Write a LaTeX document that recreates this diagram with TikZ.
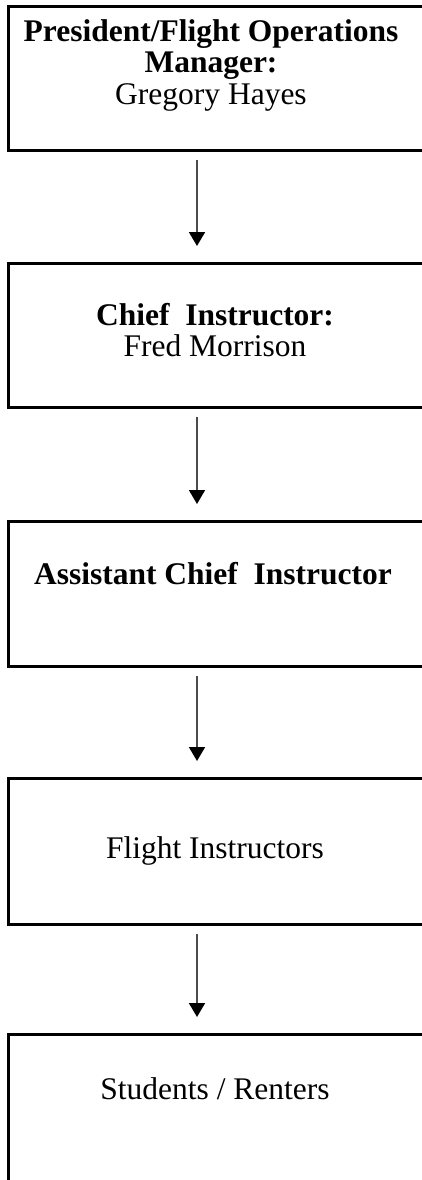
\documentclass[tikz,border=0pt]{standalone}
\usepackage{fontspec}
\setmainfont{Liberation Serif}
\usepackage{tikz}
\usetikzlibrary{arrows.meta}
\tikzstyle{orgbox} = [draw=black, line width=2.8pt, rectangle, anchor=north west,
    inner sep=0pt, minimum width=433pt]
\tikzstyle{orgtext} = [align=center, inner sep=0pt, font=\fontsize{31.5}{31.5}\selectfont]
\tikzstyle{orgarrow} = [draw=black!70, line width=1.8pt, -{Triangle[width=16pt,length=14pt,color=black]},
    shorten <=8pt, shorten >=16pt]

\begin{document}
\begin{tikzpicture}[x=1pt,y=-1pt]
\useasboundingbox (0,0) rectangle (422,1180);
\clip (0,0) rectangle (422,1180);
\coordinate (ax) at (197,0);
\node [orgbox, minimum height=144pt] (pres) at (7,5) {};
\node [orgtext] (prestext) at (211,65) {\textbf{President/Flight Operations}\\\textbf{Manager:}\\Gregory Hayes};
\node [orgbox, minimum height=144pt] (chief) at (7,262) {};
\node [orgtext] (chieftext) at (215,330) {\textbf{Chief\ \ Instructor:}\\Fred Morrison};
\node [orgbox, minimum height=145pt] (asst) at (7,520) {};
\node [orgtext] (assttext) at (213,574) {\textbf{Assistant Chief\ \ Instructor}};
\node [orgbox, minimum height=146pt] (flight) at (7,777) {};
\node [orgtext] (flighttext) at (215,851) {Flight Instructors};
\node [orgbox, minimum height=200pt] (stud) at (7,1033) {};
\node [orgtext] (studtext) at (215,1089) {Students / Renters};
\draw [orgarrow] (pres.south -| ax) -- (chief.north -| ax);
\draw [orgarrow] (chief.south -| ax) -- (asst.north -| ax);
\draw [orgarrow] (asst.south -| ax) -- (flight.north -| ax);
\draw [orgarrow] (flight.south -| ax) -- (stud.north -| ax);
\end{tikzpicture}
\end{document}
